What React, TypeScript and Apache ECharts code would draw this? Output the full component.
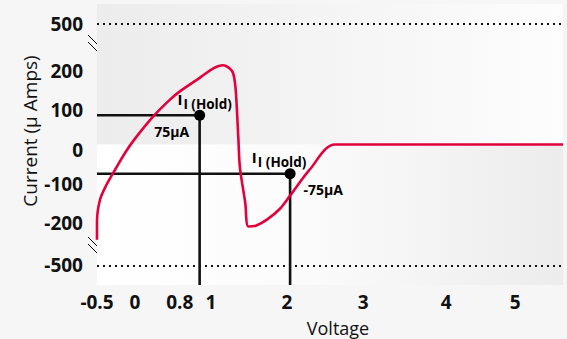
import React, { useEffect, useRef } from "react";
import * as echarts from "echarts";

// Voltage (V) and current (µA)
const curveVoltage = [-0.5, -0.5, -0.46, -0.38, -0.26, -0.13, 0, 0.24, 0.46, 0.59, 0.86, 1.03, 1.16, 1.28, 1.32, 1.34, 1.36, 1.38, 1.45, 1.49, 1.59, 1.74, 1.91, 2.04, 2.3, 2.63, 5.63];
const curveCurrent = [-244, -197, -141, -105, -64, -21, 15, 72, 115, 136, 172, 195, 203, 187, 149, 90, 13, -59, -149, -210, -208, -192, -164, -131, -64, 0, 0];

const holdVoltage = [0.85, 2.04];
const holdCurrent = [75, -75];
const holdValueLabels = ["75µA", "-75µA"];

const odLevels = [500, -500];

const yTickLabels = [500, 200, 100, 0, -100, -200, -500];
const xTickLabels = [-0.5, 0, 0.8, 1, 2, 3, 4, 5];

const X_MIN = -0.5;
const X_MAX = 5.63;
const Y_MIN = -360;
const Y_MAX = 360;

// broken axis: beyond ±250 µA the scale is compressed
function toDisplay(i: number): number {
  const a = Math.abs(i);
  return a <= 250 ? i : Math.sign(i) * (250 + (a - 250) * 0.24);
}

const FONT = "Open Sans";

export default function App() {
  const ref = useRef<HTMLDivElement>(null);
  useEffect(() => {
    if (!ref.current) return;
    const chart = echarts.init(ref.current, null, { renderer: "svg" });

    const yDisplayTicks = yTickLabels.map(toDisplay);
    const curve = curveVoltage.map((v, k) => [v, toDisplay(curveCurrent[k])]);
    const holds = holdVoltage.map((v, k) => [v, toDisplay(holdCurrent[k])]);

    const black = "#111";
    const lineSeries = (data: number[][]) => ({
      type: "line",
      data,
      symbol: "none",
      silent: true,
      z: 3,
      lineStyle: { color: black, width: 2.6 },
    });

    const holdNameOffsets = [[5, -16], [-11, -17]];
    const holdValueOffsets = [[-28, 16], [33, 16]];

    const option: any = {
      animation: false,
      backgroundColor: "#f6f6f6",
      grid: { left: 97, right: 4, top: 4, bottom: 54, containLabel: false },
      xAxis: {
        type: "value",
        min: X_MIN,
        max: X_MAX,
        axisLine: { show: false },
        axisTick: { show: false },
        splitLine: { show: false },
        axisLabel: {
          customValues: xTickLabels,
          margin: 9,
          color: black,
          fontFamily: FONT,
          fontWeight: "bold",
          fontSize: 19,
          lineHeight: 16,
          formatter: (v: number) => {
            const t = String(v);
            if (Math.abs(v - 0.8) < 1e-6) return "{l|" + t + "}";
            if (Math.abs(v - 4) < 1e-6) return "{r|" + t + "}";
            return "{n|" + t + "}";
          },
          rich: {
            n: { fontFamily: FONT, fontWeight: "bold", fontSize: 19, lineHeight: 16, color: black },
            l: { fontFamily: FONT, fontWeight: "bold", fontSize: 19, lineHeight: 16, color: black, padding: [0, 32, 0, 0] },
            r: { fontFamily: FONT, fontWeight: "bold", fontSize: 19, lineHeight: 16, color: black, padding: [0, 0, 0, 14] },
          },
        },
      },
      yAxis: {
        type: "value",
        min: Y_MIN,
        max: Y_MAX,
        axisLine: { show: false },
        axisTick: { show: false },
        splitLine: { show: false },
        axisLabel: {
          customValues: yDisplayTicks,
          margin: 14,
          color: black,
          fontFamily: FONT,
          fontWeight: "bold",
          fontSize: 19,
          formatter: (v: number) => {
            let idx = 0;
            let best = Infinity;
            yDisplayTicks.forEach((d, k) => {
              if (Math.abs(d - v) < best) {
                best = Math.abs(d - v);
                idx = k;
              }
            });
            const lab = yTickLabels[idx];
            const t = String(lab);
            return lab >= 0 && lab <= 250 ? "{p|" + t + "}" : "{n|" + t + "}";
          },
          rich: {
            n: { fontFamily: FONT, fontWeight: "bold", fontSize: 19, color: black },
            p: { fontFamily: FONT, fontWeight: "bold", fontSize: 19, color: black, padding: [10, 0, 0, 0] },
          },
        },
      },
      series: [
        {
          type: "line",
          data: [],
          silent: true,
          z: 0,
          markArea: {
            silent: true,
            label: { show: false },
            data: [
              [
                {
                  yAxis: 0,
                  itemStyle: {
                    color: new echarts.graphic.LinearGradient(0, 0, 1, 0, [
                      { offset: 0, color: "#ececec" },
                      { offset: 1, color: "#fdfdfd" },
                    ]),
                  },
                },
                { yAxis: Y_MAX },
              ],
              [
                {
                  yAxis: Y_MIN,
                  itemStyle: {
                    color: new echarts.graphic.LinearGradient(0, 0, 1, 0, [
                      { offset: 0, color: "#ffffff" },
                      { offset: 0.45, color: "#fbfbfb" },
                      { offset: 1, color: "#ececec" },
                    ]),
                  },
                },
                { yAxis: 0 },
              ],
            ],
          },
          markLine: {
            silent: true,
            symbol: ["none", "none"],
            label: { show: false },
            lineStyle: { color: black, type: [2, 4], width: 2.2 },
            data: odLevels.map((l) => ({ yAxis: toDisplay(l) })),
          },
        },
        {
          type: "line",
          data: curve,
          symbol: "none",
          silent: true,
          smooth: 0.3,
          z: 4,
          lineStyle: { color: "#e4003b", width: 2.6 },
        },
        ...holds.map((p) => lineSeries([[X_MIN, p[1]], p])),
        ...holds.map((p) => lineSeries([p, [p[0], Y_MIN]])),
        {
          type: "scatter",
          data: holds.map((p, k) => ({
            value: p,
            label: {
              show: true,
              position: "inside",
              offset: holdNameOffsets[k],
              formatter: "{m|I}{s|I (Hold)}",
              color: "#000",
              opacity: 1,
              textBorderWidth: 0,
              rich: {
                m: { fontFamily: FONT, fontWeight: "bold", fontSize: 15, lineHeight: 16, color: "#000" },
                s: { fontFamily: FONT, fontWeight: "bold", fontSize: 13.5, lineHeight: 14, padding: [10, 0, 0, 1], color: "#000" },
              },
            },
          })),
          symbol: "circle",
          symbolSize: 11,
          silent: true,
          z: 6,
          itemStyle: { color: "#000", opacity: 1 },
        },
        {
          type: "scatter",
          data: holds.map((p, k) => ({
            value: p,
            label: {
              show: true,
              position: "inside",
              offset: holdValueOffsets[k],
              formatter: holdValueLabels[k],
              fontFamily: FONT,
              fontWeight: "bold",
              fontSize: 14,
              color: "#000",
              opacity: 1,
              textBorderWidth: 0,
            },
          })),
          symbolSize: 0,
          silent: true,
          z: 6,
          itemStyle: { color: "#000", opacity: 1 },
        },
      ],
      graphic: [
        { type: "line", shape: { x1: 88, y1: 35, x2: 104, y2: 51 }, style: { stroke: "#000", lineWidth: 1 } },
        { type: "line", shape: { x1: 88, y1: 42, x2: 104, y2: 58 }, style: { stroke: "#000", lineWidth: 1 } },
        { type: "line", shape: { x1: 88, y1: 237, x2: 104, y2: 253 }, style: { stroke: "#000", lineWidth: 1 } },
        { type: "line", shape: { x1: 88, y1: 244, x2: 104, y2: 260 }, style: { stroke: "#000", lineWidth: 1 } },
        {
          type: "text",
          x: 30,
          y: 131,
          rotation: Math.PI / 2,
          style: {
            text: "Current (µ Amps)",
            fontFamily: FONT,
            fontSize: 19,
            fill: black,
            align: "center",
            verticalAlign: "middle",
          },
        },
        {
          type: "text",
          x: 338,
          y: 328,
          style: {
            text: "Voltage",
            fontFamily: FONT,
            fontSize: 18,
            lineHeight: 18,
            fill: black,
            align: "center",
            verticalAlign: "middle",
          },
        },
        {
          type: "text",
          x: 463,
          y: 46,
          style: {
            text: "{m|I}{s|I (OD)}",
            verticalAlign: "middle",
            rich: {
              m: { fontFamily: FONT, fontWeight: "bold", fontSize: 15, lineHeight: 16, fill: black },
              s: { fontFamily: FONT, fontWeight: "bold", fontSize: 13.5, lineHeight: 14, padding: [10, 0, 0, 1], fill: black },
            },
          },
        },
        {
          type: "text",
          x: 463,
          y: 253,
          style: {
            text: "{m|I}{s|I}{m| (OD)}",
            verticalAlign: "middle",
            rich: {
              m: { fontFamily: FONT, fontWeight: "bold", fontSize: 15, lineHeight: 16, fill: black },
              s: { fontFamily: FONT, fontWeight: "bold", fontSize: 12, lineHeight: 13, padding: [12, 0, 0, 1], fill: black },
            },
          },
        },
      ],
    };

    chart.setOption(option);
    return () => chart.dispose();
  }, []);

  return (
    <div
      ref={ref}
      style={{ position: "fixed", left: 0, top: 0, width: 567, height: 339 }}
    />
  );
}
